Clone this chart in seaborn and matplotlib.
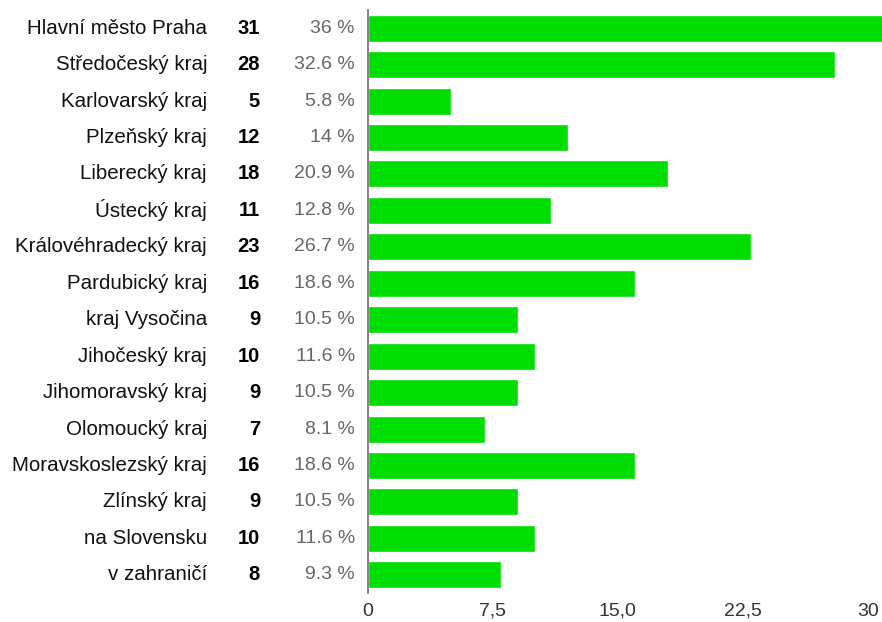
import pandas as pd
import matplotlib
matplotlib.use('Agg')
import matplotlib.pyplot as plt
import matplotlib.transforms as mtransforms
import seaborn as sns

# Data
regions = ['Hlavní město Praha', 'Středočeský kraj', 'Karlovarský kraj', 'Plzeňský kraj',
           'Liberecký kraj', 'Ústecký kraj', 'Královéhradecký kraj', 'Pardubický kraj',
           'kraj Vysočina', 'Jihočeský kraj', 'Jihomoravský kraj', 'Olomoucký kraj',
           'Moravskoslezský kraj', 'Zlínský kraj', 'na Slovensku', 'v zahraničí']
counts = [31, 28, 5, 12, 18, 11, 23, 16, 9, 10, 9, 7, 16, 9, 10, 8]
percents = ['36 %', '32.6 %', '5.8 %', '14 %', '20.9 %', '12.8 %', '26.7 %', '18.6 %',
            '10.5 %', '11.6 %', '10.5 %', '8.1 %', '18.6 %', '10.5 %', '11.6 %', '9.3 %']
tick_values = [0, 7.5, 15, 22.5, 30]
tick_labels = ['0', '7,5', '15,0', '22,5', '30']

df = pd.DataFrame({'region': regions, 'count': counts, 'pct': percents})

sns.set_style('white')
plt.rcParams['font.family'] = ['Liberation Sans', 'DejaVu Sans']

fig = plt.figure(figsize=(8.82, 6.22), dpi=100)
ax = fig.add_axes([368 / 882, 29 / 622, 1 - 368 / 882, 583 / 622])

sns.barplot(data=df, x='count', y='region', orient='h', color='#00DD00',
            saturation=1, width=0.74, ax=ax)

ax.set_xlim(0, 30.85)
ax.set_ylim(len(regions) - 0.5, -0.5)
ax.set_xlabel('')
ax.set_ylabel('')
ax.set_yticks([])
ax.set_xticks(tick_values)
ax.set_xticklabels(tick_labels, fontsize=14, color='#333333')
ax.tick_params(axis='x', length=0, pad=7)

for side in ['top', 'right', 'bottom']:
    ax.spines[side].set_visible(False)
ax.spines['left'].set_color('#777777')
ax.spines['left'].set_linewidth(1.3)

# Label columns to the left of the axis
trans = mtransforms.blended_transform_factory(fig.transFigure, ax.transData)
for i, row in df.iterrows():
    ax.text(207 / 882, i, row['region'], transform=trans, ha='right', va='center',
            fontsize=14.8, color='#111111', clip_on=False)
    ax.text(260 / 882, i, str(row['count']), transform=trans, ha='right', va='center',
            fontsize=14.5, fontweight='bold', color='#000000', clip_on=False)
    ax.text(355 / 882, i, row['pct'], transform=trans, ha='right', va='center',
            fontsize=14, color='#666666', clip_on=False)

fig.savefig('out.png', dpi=100)
